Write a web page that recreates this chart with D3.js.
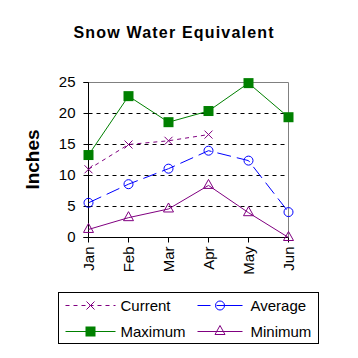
<!DOCTYPE html>
<html><head><meta charset="utf-8">
<script src="https://cdn.jsdelivr.net/npm/d3@7"></script>
<style>body{margin:0;background:#fff}svg{display:block}text{font-family:Arial,"Liberation Sans",sans-serif}</style>
</head><body>
<script>
const months = ["Jan","Feb","Mar","Apr","May","Jun"];
const current = [11.0, 15.0, 15.6, 16.6, null, null];
const average = [5.6, 8.6, 11.1, 14.0, 12.4, 4.1];
const maximum = [13.3, 22.8, 18.6, 20.4, 24.9, 19.4];
const minimum = [1.3, 3.2, 4.6, 8.4, 4.0, 0.0];
const yTicks = [0, 5, 10, 15, 20, 25];

const W = 358, H = 358;
const root = d3.select("body").append("svg").attr("width", W).attr("height", H);
const svg = root.append("g").attr("transform", "translate(0.5,0.5)");
const x = d3.scalePoint().domain(months).range([88, 288]);
const y = d3.scaleLinear().domain([0, 25]).range([237, 82]);

svg.append("text").attr("x", 173).attr("y", 37).attr("text-anchor", "middle")
  .attr("font-size", 16).attr("font-weight", "bold")
  .attr("textLength", 200).attr("lengthAdjust", "spacing").text("Snow Water Equivalent");
svg.append("text").attr("transform", "translate(38,159) rotate(-90)").attr("text-anchor", "middle")
  .attr("font-size", 19).attr("font-weight", "bold").text("Inches");

// plot border (top & right)
svg.append("path").attr("d", `M${x("Jan")},${y(25)}H${x("Jun")}V${y(0)}`)
  .attr("fill", "none").attr("stroke", "#808080").attr("stroke-width", 1);
// gridlines
svg.append("g").selectAll("line").data(yTicks.filter(d => d > 0 && d < 25)).join("line")
  .attr("x1", x("Jan")).attr("x2", x("Jun")).attr("y1", d => y(d)).attr("y2", d => y(d))
  .attr("stroke", "#000").attr("stroke-dasharray", "4,4");

const ya = svg.append("g").attr("transform", `translate(${x("Jan")},0)`)
  .call(d3.axisLeft(y).tickValues(yTicks).tickSize(5).tickPadding(8).offset(0));
ya.selectAll("text").attr("font-size", 15).attr("font-family", "Arial, 'Liberation Sans', sans-serif").attr("fill", "#000");
ya.select(".domain").attr("stroke", "#000");
ya.selectAll(".tick line").attr("stroke", "#000");

const xa = svg.append("g").attr("transform", `translate(0,${y(0)})`)
  .call(d3.axisBottom(x).tickSize(5).tickSizeOuter(0).offset(0));
xa.select(".domain").attr("stroke", "#000");
xa.selectAll(".tick line").attr("stroke", "#000");
xa.selectAll("text").attr("font-size", 15).attr("font-family", "Arial, 'Liberation Sans', sans-serif").attr("fill", "#000")
  .attr("transform", "rotate(-90)").attr("text-anchor", "end").attr("dy", "0.35em").attr("x", -9).attr("y", 0);

function series(data, color, dash) {
  const line = d3.line().defined(d => d != null).x((d, i) => x(months[i])).y(d => y(d));
  svg.append("path").datum(data).attr("d", line).attr("fill", "none")
    .attr("stroke", color).attr("stroke-width", 1).attr("stroke-dasharray", dash);
}
series(maximum, "#008000", null);
series(minimum, "#800080", null);
series(average, "#0000ff", "14,6");
series(current, "#800080", "4,4");

const pts = (data) => data.map((v, i) => ({v, m: months[i]})).filter(d => d.v != null);
function square(g, cx, cy) {
  g.append("rect").attr("x", cx - 5).attr("y", cy - 5).attr("width", 10).attr("height", 10).attr("fill", "#008000");
}
function circle(g, cx, cy) {
  g.append("circle").attr("cx", cx).attr("cy", cy).attr("r", 4.5).attr("fill", "none").attr("stroke", "#0000ff");
}
function tri(g, cx, cy) {
  g.append("path").attr("d", `M${cx},${cy - 6}L${cx + 5},${cy + 3}L${cx - 5},${cy + 3}Z`).attr("fill", "none").attr("stroke", "#800080");
}
function cross(g, cx, cy) {
  g.append("path").attr("d", `M${cx - 4},${cy - 4}L${cx + 4},${cy + 4}M${cx + 4},${cy - 4}L${cx - 4},${cy + 4}`).attr("stroke", "#800080");
}
const mg = svg.append("g");
pts(maximum).forEach(d => square(mg, x(d.m), y(d.v)));
pts(average).forEach(d => circle(mg, x(d.m), y(d.v)));
pts(minimum).forEach(d => tri(mg, x(d.m), y(d.v)));
pts(current).forEach(d => cross(mg, x(d.m), y(d.v)));

// legend
const lg = svg.append("g");
lg.append("rect").attr("x", 58).attr("y", 292).attr("width", 260).attr("height", 51).attr("fill", "#fff").attr("stroke", "#000");
const legendItems = [
  {name: "Current", color: "#800080", dash: "4,4", mk: cross, lx: 65, ly: 305},
  {name: "Average", color: "#0000ff", dash: null, mk: circle, lx: 197, ly: 305, avg: true},
  {name: "Maximum", color: "#008000", dash: null, mk: square, lx: 65, ly: 331},
  {name: "Minimum", color: "#800080", dash: null, mk: tri, lx: 197, ly: 331}
];
legendItems.forEach(it => {
  const len = it.lx < 100 ? 50 : 45;
  if (it.avg) {
    lg.append("line").attr("x1", it.lx).attr("x2", it.lx + 13).attr("y1", it.ly).attr("y2", it.ly).attr("stroke", it.color);
    lg.append("line").attr("x1", it.lx + 19).attr("x2", it.lx + len).attr("y1", it.ly).attr("y2", it.ly).attr("stroke", it.color);
  } else {
    lg.append("line").attr("x1", it.lx).attr("x2", it.lx + len).attr("y1", it.ly).attr("y2", it.ly)
      .attr("stroke", it.color).attr("stroke-dasharray", it.dash);
  }
  it.mk(lg, it.lx + len / 2, it.ly);
  lg.append("text").attr("x", it.lx < 100 ? 120 : 250).attr("y", it.ly).attr("dy", "0.35em")
    .attr("font-size", 15).text(it.name);
});
</script>
</body></html>
